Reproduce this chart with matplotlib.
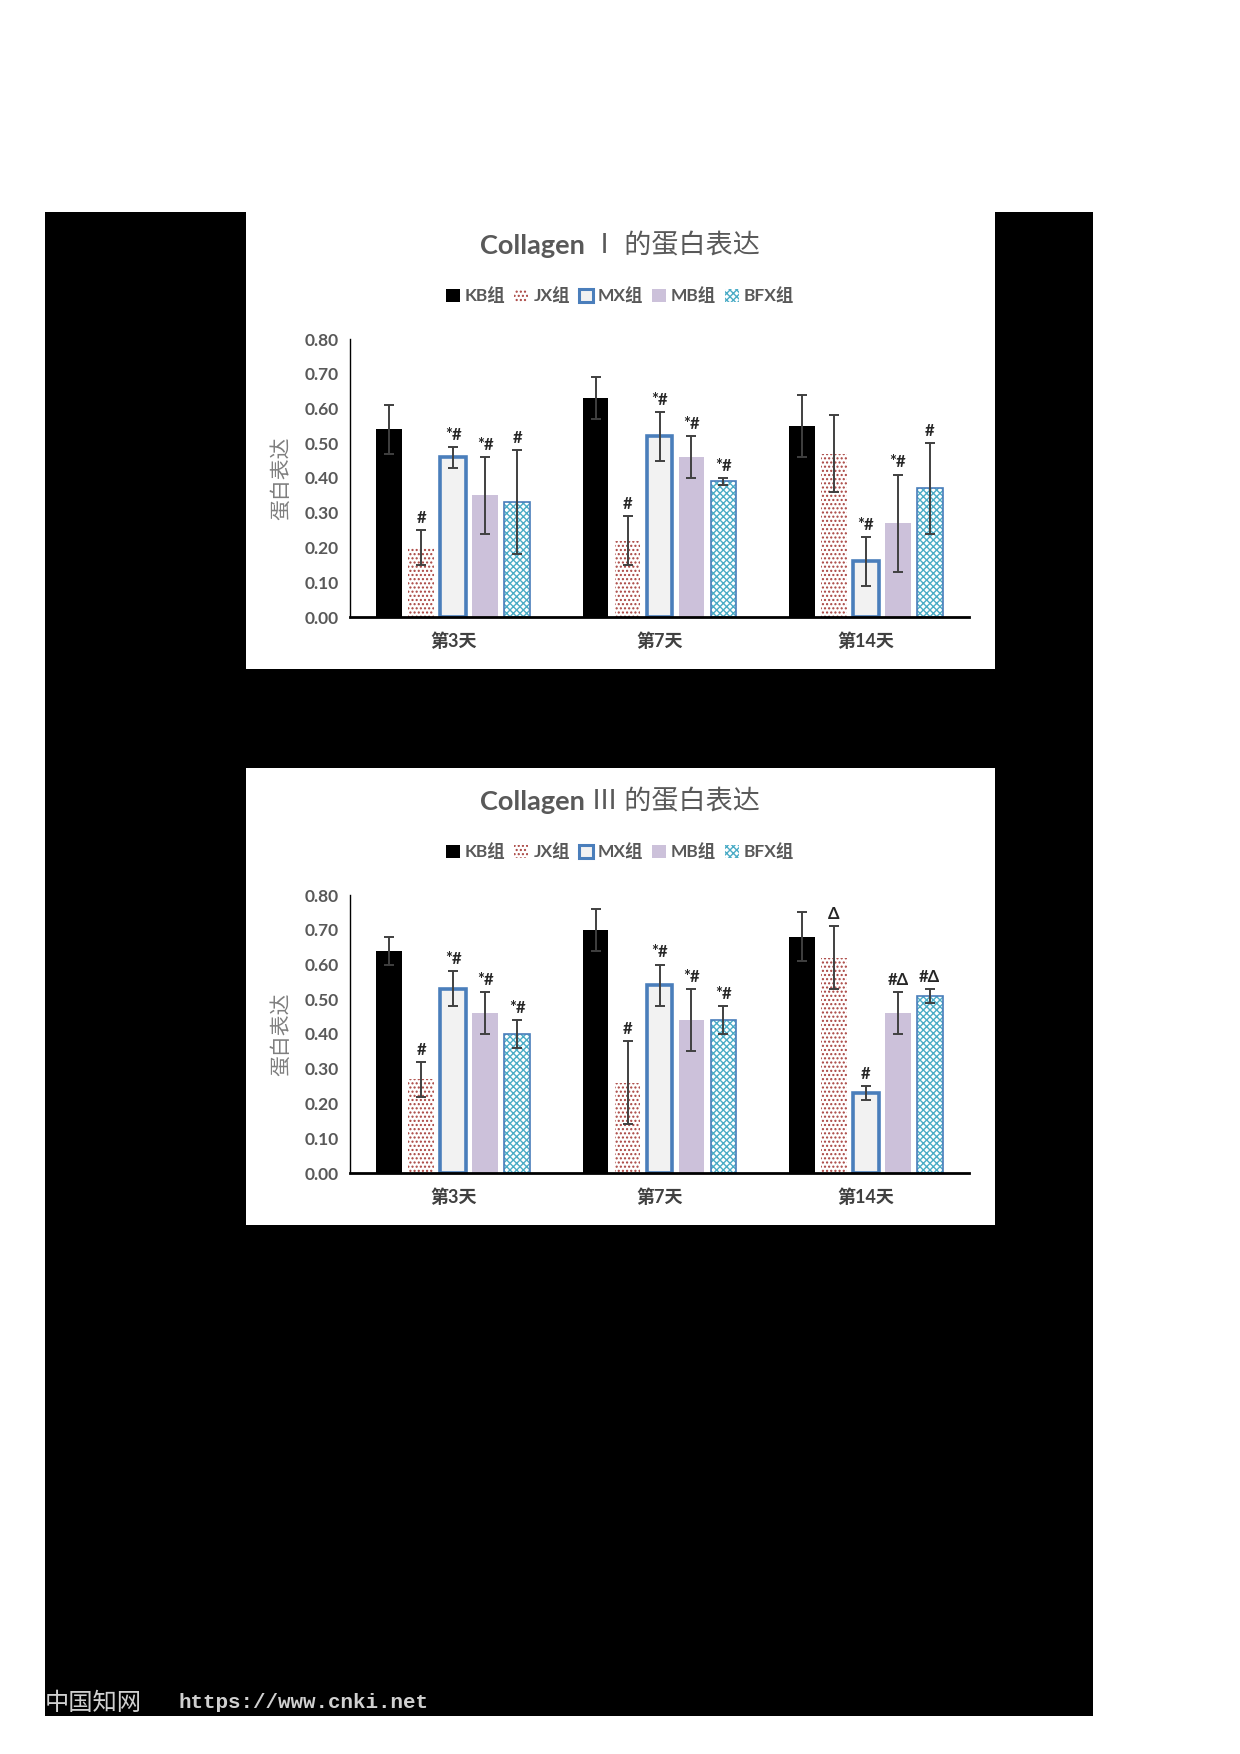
import numpy as np
import matplotlib
matplotlib.use("Agg")
import matplotlib.pyplot as plt
from matplotlib.patches import Rectangle, Patch
from matplotlib.offsetbox import TextArea, HPacker, AnnotationBbox

# ---------------- data ----------------
days = ["第3天", "第7天", "第14天"]
groups = ["KB组", "JX组", "MX组", "MB组", "BFX组"]
yticks = [0.00, 0.10, 0.20, 0.30, 0.40, 0.50, 0.60, 0.70, 0.80]

# Collagen I
c1_kb = [0.54, 0.63, 0.55]
c1_jx = [0.20, 0.22, 0.47]
c1_mx = [0.46, 0.52, 0.16]
c1_mb = [0.35, 0.46, 0.27]
c1_bfx = [0.33, 0.39, 0.37]
c1_kb_err = [0.07, 0.06, 0.09]
c1_jx_err = [0.05, 0.07, 0.11]
c1_mx_err = [0.03, 0.07, 0.07]
c1_mb_err = [0.11, 0.06, 0.14]
c1_bfx_err = [0.15, 0.01, 0.13]
c1_kb_sig = ["", "", ""]
c1_jx_sig = ["#", "#", ""]
c1_mx_sig = ["*#", "*#", "*#"]
c1_mb_sig = ["*#", "*#", "*#"]
c1_bfx_sig = ["#", "*#", "#"]

# Collagen III
c3_kb = [0.64, 0.70, 0.68]
c3_jx = [0.27, 0.26, 0.62]
c3_mx = [0.53, 0.54, 0.23]
c3_mb = [0.46, 0.44, 0.46]
c3_bfx = [0.40, 0.44, 0.51]
c3_kb_err = [0.04, 0.06, 0.07]
c3_jx_err = [0.05, 0.12, 0.09]
c3_mx_err = [0.05, 0.06, 0.02]
c3_mb_err = [0.06, 0.09, 0.06]
c3_bfx_err = [0.04, 0.04, 0.02]
c3_kb_sig = ["", "", ""]
c3_jx_sig = ["#", "#", "Δ"]
c3_mx_sig = ["*#", "*#", "#"]
c3_mb_sig = ["*#", "*#", "#Δ"]
c3_bfx_sig = ["*#", "*#", "#Δ"]

# ---------------- style ----------------
W, H = 1240, 1754
plt.rcParams["hatch.linewidth"] = 1.0
LAT = ["Lato", "DejaVu Sans", "Noto Sans CJK SC"]
CJK = ["Noto Sans CJK SC", "DejaVu Sans"]
GRAY = "#595959"
RED = "#A8423E"
BLUE = "#4A7EBB"
TEAL = "#4BACC6"
LAV = "#CCC1DA"
ERRC = "#404040"

fig = plt.figure(figsize=(W / 100, H / 100), dpi=100)
fig.patch.set_facecolor("white")


def fx(px):
    return px / W


def fy(py):
    return 1 - py / H


# black page background
fig.patches.append(Rectangle((fx(45), fy(1716)), fx(1093) - fx(45), fy(212) - fy(1716),
                             transform=fig.transFigure, facecolor="black", edgecolor="none", zorder=0))
fig.text(fx(45), fy(1703), "中国知网", family=CJK, fontsize=17.5, color="#D0D0D0", va="center", ha="left")
fig.text(fx(178), fy(1703), "https://www.cnki.net", family=["Liberation Mono", "DejaVu Sans Mono"],
         weight="bold", fontsize=15, color="#D0D0D0", va="center", ha="left")


def draw_chart(top, roman, series, errs, sigs):
    # white panel
    fig.patches.append(Rectangle((fx(246), fy(top + 457)), fx(995) - fx(246), fy(top) - fy(top + 457),
                                 transform=fig.transFigure, facecolor="white", edgecolor="none", zorder=1))
    # title
    t1 = TextArea("Collagen", textprops=dict(family=LAT, weight="bold", fontsize=19.5, color=GRAY))
    t2 = TextArea(roman + " 的蛋白表达", textprops=dict(family=CJK, fontsize=19.5, color=GRAY))
    box = HPacker(children=[t1, t2], sep=5, align="baseline", pad=0)
    ab = AnnotationBbox(box, (fx(620), fy(top + 34)), xycoords="figure fraction",
                        box_alignment=(0.5, 0.5), frameon=False, zorder=5)
    fig.add_artist(ab)

    ax = fig.add_axes([fx(350), fy(top + 405), fx(969) - fx(350), fy(top + 127) - fy(top + 405)])
    ax.set_zorder(3)
    ax.set_facecolor("none")
    x = np.arange(len(days))
    width = 0.125
    step = 0.155
    for i, (vals, err, sig) in enumerate(zip(series, errs, sigs)):
        xi = x + (i - 2) * step
        if i == 0:
            ax.bar(xi, vals, width, color="black", linewidth=0, zorder=2)
        elif i == 1:
            ax.bar(xi, vals, width, facecolor="white", edgecolor=RED, hatch="....",
                   linewidth=0, zorder=2)
        elif i == 2:
            ax.bar(xi, vals, width, facecolor="#F2F2F2", edgecolor=BLUE, linewidth=2.6, zorder=2)
        elif i == 3:
            ax.bar(xi, vals, width, color=LAV, linewidth=0, zorder=2)
        else:
            ax.bar(xi, vals, width, facecolor="white", edgecolor=TEAL, hatch="xxxxx",
                   linewidth=0, zorder=2)
            ax.bar(xi, vals, width, fill=False, edgecolor=BLUE, linewidth=1.2, zorder=2.1)
        ax.errorbar(xi, vals, yerr=err, fmt="none", ecolor=ERRC, elinewidth=1.4,
                    capsize=3.5, capthick=1.4, zorder=4)
        for xv, v, e, s in zip(xi, vals, err, sig):
            if s:
                ax.annotate(s, (xv, v + e), xytext=(0, 3), textcoords="offset points",
                            ha="center", va="bottom", family=LAT, weight="bold",
                            fontsize=12, color="#262626", zorder=5)

    ax.set_xlim(-0.5, 2.5)
    ax.set_ylim(0, 0.8)
    ax.set_yticks(yticks)
    ax.set_yticklabels([f"{t:.2f}" for t in yticks], family=LAT, weight="bold",
                       fontsize=12.5, color=GRAY)
    ax.set_xticks(x)
    ax.set_xticklabels(days, family=LAT, weight="bold", fontsize=13, color="#404040")
    ax.tick_params(axis="both", length=0)
    ax.tick_params(axis="y", pad=8)
    ax.tick_params(axis="x", pad=11)
    for s in ("top", "right"):
        ax.spines[s].set_visible(False)
    ax.spines["left"].set_linewidth(1.0)
    ax.spines["left"].set_color("black")
    ax.spines["bottom"].set_linewidth(2.0)
    ax.spines["bottom"].set_color("black")
    ax.set_ylabel("蛋白表达", family=CJK, fontsize=15, color="#7F7F7F")
    ax.yaxis.set_label_coords(-58 / 619, 0.5)

    handles = [
        Patch(facecolor="black", edgecolor="none"),
        Patch(facecolor="white", edgecolor=RED, hatch="....", linewidth=0),
        Patch(facecolor="#F2F2F2", edgecolor=BLUE, linewidth=2.2),
        Patch(facecolor=LAV, edgecolor="none"),
        Patch(facecolor="white", edgecolor=TEAL, hatch="xxxxx", linewidth=0),
    ]
    leg = fig.legend(handles, groups, loc="center", bbox_to_anchor=(fx(620), fy(top + 84)),
                     ncol=5, frameon=False, handlelength=0.8, handleheight=0.8,
                     handletextpad=0.3, columnspacing=0.5,
                     prop=dict(family=LAT, weight="bold", size=12.5))
    for t in leg.get_texts():
        t.set_color(GRAY)
    leg.set_zorder(6)


draw_chart(212, "Ⅰ",
           [c1_kb, c1_jx, c1_mx, c1_mb, c1_bfx],
           [c1_kb_err, c1_jx_err, c1_mx_err, c1_mb_err, c1_bfx_err],
           [c1_kb_sig, c1_jx_sig, c1_mx_sig, c1_mb_sig, c1_bfx_sig])
draw_chart(768, "Ⅲ",
           [c3_kb, c3_jx, c3_mx, c3_mb, c3_bfx],
           [c3_kb_err, c3_jx_err, c3_mx_err, c3_mb_err, c3_bfx_err],
           [c3_kb_sig, c3_jx_sig, c3_mx_sig, c3_mb_sig, c3_bfx_sig])

fig.savefig("out.png", dpi=100, facecolor="white")
